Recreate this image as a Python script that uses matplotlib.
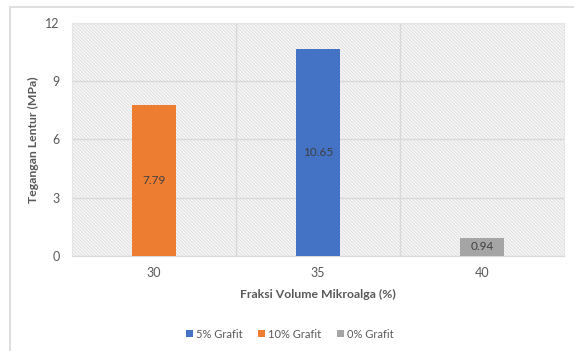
import matplotlib
matplotlib.use("Agg")
import matplotlib.pyplot as plt
from matplotlib.patches import Rectangle

# flexural stress per microalgae volume fraction
categories = ["30", "35", "40"]
values = [7.79, 10.65, 0.94]
series = ["10% Grafit", "5% Grafit", "0% Grafit"]
colors = ["#ED7D31", "#4472C4", "#A5A5A5"]
legend_order = ["5% Grafit", "10% Grafit", "0% Grafit"]
yticks = [0, 3, 6, 9, 12]

plt.rcParams["font.family"] = ["Lato", "DejaVu Sans"]
plt.rcParams["hatch.color"] = "#dedede"
plt.rcParams["hatch.linewidth"] = 0.6

fig = plt.figure(figsize=(5.74, 3.51), dpi=100)
fig.patches.append(Rectangle((10/574, -0.1), 1.2, 1 - 6.5/351 + 0.1,
                             transform=fig.transFigure, fill=False,
                             edgecolor="#d9d9d9", linewidth=1.2))

ax = fig.add_axes([72/574, 1 - 256/351, 492/574, (256 - 22.7)/351])

# hatched plot area
ax.add_patch(Rectangle((0, 0), 1, 1, transform=ax.transAxes,
                       facecolor="#f6f6f6", hatch="\\" * 10,
                       linewidth=0, zorder=0))

x = list(range(len(categories)))
handles = {}
for i, (v, s, c) in enumerate(zip(values, series, colors)):
    b = ax.bar(i, v, width=0.27, color=c, zorder=3, label=s)
    handles[s] = b
    ax.text(i, v / 2, f"{v:.2f}", ha="center", va="center",
            fontsize=8.5, color="#404040", zorder=4)

ax.set_xlim(-0.5, 2.5)
ax.set_ylim(0, 12)
ax.set_yticks(yticks)
ax.set_xticks(x)
ax.set_xticklabels(categories)
ax.set_xticks([0.5, 1.5], minor=True)
ax.grid(axis="y", which="major", color="#d9d9d9", linewidth=1, zorder=1)
ax.grid(axis="x", which="minor", color="#d9d9d9", linewidth=1, zorder=1)
ax.tick_params(axis="both", which="both", length=0, labelsize=9,
               labelcolor="#595959")
ax.tick_params(axis="y", pad=9)
ax.tick_params(axis="x", pad=8)
for side in ["top", "right", "left"]:
    ax.spines[side].set_color("#e6e6e6")
ax.spines["bottom"].set_color("#d9d9d9")
ax.set_facecolor("white")

ax.set_xlabel("Fraksi Volume Mikroalga (%)", fontsize=8.8, fontweight="bold",
              color="#595959", labelpad=7)
ax.set_ylabel("Tegangan Lentur (MPa)", fontsize=8.8, fontweight="bold",
              color="#595959", labelpad=4)

fig.legend([handles[s] for s in legend_order], legend_order,
           loc="center", bbox_to_anchor=(290/574, 1 - 334/351), ncol=3,
           frameon=False, fontsize=8, handlelength=0.6, handleheight=0.6,
           handletextpad=0.3, columnspacing=1.4, labelcolor="#595959")

fig.savefig("out.png", dpi=100)
